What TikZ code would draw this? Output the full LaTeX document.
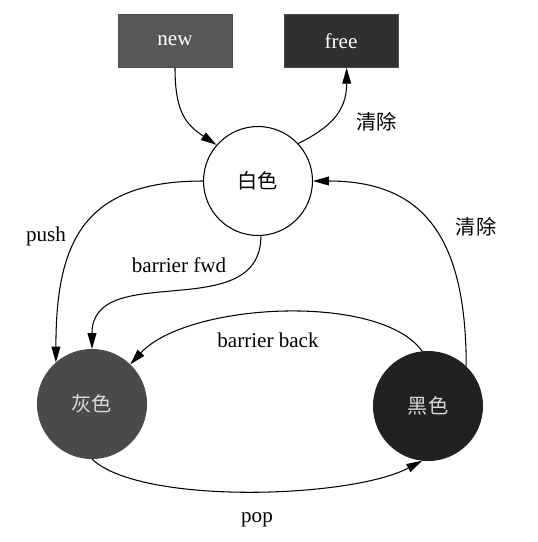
\documentclass[tikz,border=0pt]{standalone}
\usepackage{fontspec}
\setmainfont{Liberation Serif}
\newfontfamily\cjk{Noto Sans CJK SC}
\usetikzlibrary{arrows.meta}
\definecolor{newfill}{gray}{0.34}
\definecolor{freefill}{gray}{0.19}
\definecolor{grayfill}{gray}{0.29}
\definecolor{blackfill}{gray}{0.13}
\begin{document}
\begin{tikzpicture}[x=0.02cm,y=-0.02cm,>={Triangle[length=9pt,width=5pt]},line width=0.6pt,
    font=\fontsize{12}{14}\selectfont,
    box/.style={draw=black!70,line width=0.4pt,minimum width=2.28cm,minimum height=1.06cm,text=white},
    state/.style={circle,draw,minimum size=2.18cm,inner sep=0pt,font=\cjk\fontsize{11.5}{14}\selectfont},
    lbl/.style={inner sep=1pt}]
    \useasboundingbox (0,0) rectangle (538,542);
    % boxes
    \node[box,fill=newfill] (new) at (175,41) {new};
    \node[box,fill=freefill] (free) at (341,41) {free};
    % states
    \node[state,fill=white] (white) at (258,181) {白色};
    \node[state,fill=grayfill,draw=grayfill,text=white!85!black] (gray) at (92,404) {灰色};
    \node[state,fill=blackfill,draw=blackfill,text=white!85!black] (black) at (428,406) {黑色};
    % edges
    \draw[->] (new.south) .. controls +(0,45) and +(-30,-20) .. (white.139);
    \draw[->] (white.43) .. controls +(30,-15) and +(0,45) .. (free.-78);
    \draw[->] (white.180) .. controls +(-120,0) and +(0,-120) .. (gray.131);
    \draw[->] (white.-87) .. controls +(0,90) and +(0,-90) .. (gray.90);
    \draw[->] (black.96) .. controls +(-42,-59) and +(57,-62) .. (gray.46);
    \draw[->] (black.46) .. controls +(0,-130) and +(110,0) .. (white.0);
    \draw[->] (gray.-90) .. controls +(48,46) and +(-72,38) .. (black.-96);
    % labels
    \node[lbl,font=\cjk\fontsize{11.5}{14}\selectfont] (clear1) at (377,122) {清除};
    \node[lbl,font=\cjk\fontsize{11.5}{14}\selectfont] (clear2) at (476,227) {清除};
    \node[lbl] (push) at (46,236) {push};
    \node[lbl] (fwd) at (179,265) {barrier fwd};
    \node[lbl] (back) at (268,340) {barrier back};
    \node[lbl] (pop) at (257,520) {pop};
\end{tikzpicture}
\end{document}
